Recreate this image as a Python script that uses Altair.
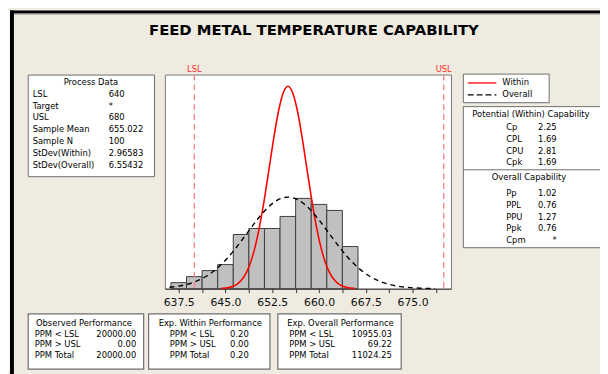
import altair as alt
import pandas as pd

# ---------------- data ----------------
bin_start = [636.25, 638.75, 641.25, 643.75, 646.25, 648.75, 651.25, 653.75, 656.25, 658.75, 661.25, 663.75]
bin_end = [638.75, 641.25, 643.75, 646.25, 648.75, 651.25, 653.75, 656.25, 658.75, 661.25, 663.75, 666.25]
counts = [1, 2, 3, 4, 9, 10, 10, 12, 15, 14, 13, 7]

within_x = [644.35, 644.64, 645.38, 646.12, 646.87, 647.61, 648.35, 649.09, 649.83, 650.57, 651.32,
            652.06, 652.80, 653.54, 654.28, 655.02, 655.76, 656.51, 657.25, 657.99, 658.73, 659.47,
            660.21, 660.95, 661.69, 662.44, 663.18, 663.92, 664.66, 665.40, 665.70]
within_y = [0.05, 0.07, 0.17, 0.37, 0.77, 1.48, 2.68, 4.55, 7.27, 10.92, 15.40, 20.40, 25.39, 29.68,
            32.60, 33.63, 32.60, 29.68, 25.39, 20.40, 15.40, 10.92, 7.27, 4.55, 2.68, 1.48, 0.77,
            0.37, 0.17, 0.07, 0.05]
overall_x = [636.02, 637.00, 638.64, 640.27, 641.91, 643.55, 645.19, 646.83, 648.47, 650.11, 651.75,
             653.38, 655.02, 656.66, 658.30, 659.94, 661.58, 663.22, 664.85, 666.49, 668.13, 669.77,
             671.41, 673.05, 674.69, 676.32, 677.96, 678.62]
overall_y = [0.23, 0.35, 0.67, 1.21, 2.06, 3.29, 4.94, 6.97, 9.23, 11.49, 13.43, 14.75, 15.22, 14.75,
             13.43, 11.49, 9.23, 6.97, 4.94, 3.29, 2.06, 1.21, 0.67, 0.35, 0.17, 0.08, 0.03, 0.02]

spec_names = ["LSL", "USL"]
spec_values = [640, 680]

x_tick_values = [637.5, 641.25, 645.0, 648.75, 652.5, 656.25, 660.0, 663.75, 667.5, 671.25, 675.0, 678.75]

title_text = "FEED METAL TEMPERATURE CAPABILITY"

process_labels = ["LSL", "Target", "USL", "Sample Mean", "Sample N", "StDev(Within)", "StDev(Overall)"]
process_values = ["640", "*", "680", "655.022", "100", "2.96583", "6.55432"]

within_cap_labels = ["Cp", "CPL", "CPU", "Cpk"]
within_cap_values = ["2.25", "1.69", "2.81", "1.69"]
overall_cap_labels = ["Pp", "PPL", "PPU", "Ppk", "Cpm"]
overall_cap_values = ["1.02", "0.76", "1.27", "0.76", "*"]

perf_labels = ["PPM < LSL", "PPM > USL", "PPM Total"]
observed_values = ["20000.00", "0.00", "20000.00"]
exp_within_values = ["0.20", "0.00", "0.20"]
exp_overall_values = ["10955.03", "69.22", "11024.25"]

# ---------------- helpers ----------------
FONT = "DejaVu Sans"
FS = 8.5
OX, OY = 167, 73          # page position of the plot area's top-left corner
W, H = 290, 217
one = alt.Data(values=[{"a": 1}])


def px(x):
    return alt.value(x - OX)


def py(y):
    return alt.value(y - OY)


def rect(x1, y1, x2, y2, fill, stroke=None, sw=1.0):
    kw = dict(fill=fill)
    if stroke:
        kw.update(stroke=stroke, strokeWidth=sw)
    return alt.Chart(one).mark_rect(**kw).encode(x=px(x1), x2=px(x2), y=py(y1), y2=py(y2))


def hline(x1, x2, y, color, sw=1.0, dash=None):
    kw = dict(color=color, strokeWidth=sw)
    if dash:
        kw["strokeDash"] = dash
    return alt.Chart(one).mark_rule(**kw).encode(x=px(x1), x2=px(x2), y=py(y))


def text(s, x, y, align="left", size=FS, color="black", weight="normal"):
    return alt.Chart(one).mark_text(text=s, align=align, baseline="middle", fontSize=size,
                                    color=color, fontWeight=weight, font=FONT).encode(x=px(x), y=py(y))


layers = []

# frame decorations
layers.append(rect(8, 8, 10, 374, "white"))
layers.append(rect(10, 8, 612, 11, "black"))
layers.append(rect(10, 8, 14, 380, "black"))
layers.append(rect(14, 11, 612, 12, "#8A8A8A"))

# title
layers.append(text(title_text, 318, 28, align="center", size=15, weight="bold"))

# ---------------- plot ----------------
xs = alt.Scale(domain=[635.28, 681.17], nice=False, zero=False)
ys = alt.Scale(domain=[0, 35.57], nice=False, zero=True)
xaxis = alt.Axis(values=x_tick_values, title=None, grid=False, tickSize=4, tickColor="#333333",
                 domainColor="#333333", labelFont=FONT, labelFontSize=11, labelColor="#111111",
                 labelPadding=4, labelFlush=False,
                 labelExpr="(datum.value - 637.5) % 7.5 == 0 ? format(datum.value, '.1f') : ''")

hist_df = pd.DataFrame({"start": bin_start, "end": bin_end, "count": counts})
bars = alt.Chart(hist_df).mark_rect(color="#C0C0C0", stroke="#3C3C3C", strokeWidth=1).encode(
    x=alt.X("start:Q", scale=xs, axis=xaxis),
    x2="end:Q",
    y=alt.Y("count:Q", scale=ys, axis=None),
    y2=alt.datum(0),
)
layers.append(bars)

within_df = pd.DataFrame({"x": within_x, "y": within_y})
layers.append(alt.Chart(within_df).mark_line(color="#FF0000", strokeWidth=1.6, interpolate="monotone").encode(
    x=alt.X("x:Q", scale=xs, axis=xaxis), y=alt.Y("y:Q", scale=ys, axis=None)))

overall_df = pd.DataFrame({"x": overall_x, "y": overall_y})
layers.append(alt.Chart(overall_df).mark_line(color="#000000", strokeWidth=1.4, strokeDash=[5, 4],
                                              interpolate="monotone").encode(
    x=alt.X("x:Q", scale=xs, axis=xaxis), y=alt.Y("y:Q", scale=ys, axis=None)))

spec_df = pd.DataFrame({"name": spec_names, "v": spec_values})
layers.append(alt.Chart(spec_df).mark_rule(color="#FF8080", strokeWidth=1.3, strokeDash=[6, 4]).encode(
    x=alt.X("v:Q", scale=xs, axis=xaxis)))
layers.append(alt.Chart(spec_df).mark_text(color="#FF3030", fontSize=8.5, font=FONT, baseline="middle").encode(
    x=alt.X("v:Q", scale=xs, axis=xaxis), y=alt.value(67 - OY), text="name:N"))

# ---------------- Process Data box ----------------
layers.append(rect(28.5, 73.5, 156.5, 176.5, "white", "#6E6E6E"))
layers.append(text("Process Data", 92, 81, align="center"))
for i, (lab, val) in enumerate(zip(process_labels, process_values)):
    y = 92.5 + 12 * i
    layers.append(text(lab, 33, y))
    layers.append(text(val, 110, y))

# ---------------- Legend box ----------------
layers.append(rect(469.5, 72.5, 556.5, 101.5, "white", "#6E6E6E"))
layers.append(hline(474, 503, 81.5, "#FF0000", 1.3))
layers.append(hline(474, 503, 93.5, "#000000", 1.3, [6, 3]))
layers.append(text("Within", 509, 81))
layers.append(text("Overall", 509, 93))

# ---------------- Capability box ----------------
layers.append(rect(469.5, 105.5, 612, 248.5, "white", "#6E6E6E"))
layers.append(hline(469.5, 612, 169.5, "#6E6E6E", 1))
layers.append(text("Potential (Within) Capability", 538, 113, align="center"))
for i, (lab, val) in enumerate(zip(within_cap_labels, within_cap_values)):
    y = 126 + 12 * i
    layers.append(text(lab, 513, y))
    layers.append(text(val, 564, y, align="right"))
layers.append(text("Overall Capability", 536, 177, align="center"))
for i, (lab, val) in enumerate(zip(overall_cap_labels, overall_cap_values)):
    y = 193 + 12 * i
    layers.append(text(lab, 513, y))
    layers.append(text(val, 564, y, align="right"))

# ---------------- Performance boxes ----------------
perf_boxes = [
    ("Observed Performance", observed_values, 28.5, 145.5, 85, 35, 138),
    ("Exp. Within Performance", exp_within_values, 150.5, 273.5, 213, 172, 252),
    ("Exp. Overall Performance", exp_overall_values, 281.5, 406.5, 345, 293, 397),
]
for title, vals, x1, x2, cx, lx, vx in perf_boxes:
    layers.append(rect(x1, 315.5, x2, 371.5, "white", "#6E6E6E", 1.2))
    layers.append(text(title, cx, 325, align="center"))
    for i, (lab, val) in enumerate(zip(perf_labels, vals)):
        y = 335.5 + 10.7 * i
        layers.append(text(lab, lx, y))
        layers.append(text(val, vx, y, align="right"))

chart = alt.layer(*layers).properties(
    width=W, height=H,
    padding={"left": OX - 8, "top": OY - 8, "right": 600 - (OX - 8) - W, "bottom": 366 - (OY - 8) - H},
    autosize=alt.AutoSizeParams(type="none"),
    background="#EFEBE1",
).configure_view(fill="white", stroke="#7A7A7A", strokeWidth=1)

chart.save("out.html", embed_options={"renderer": "svg", "actions": False})
